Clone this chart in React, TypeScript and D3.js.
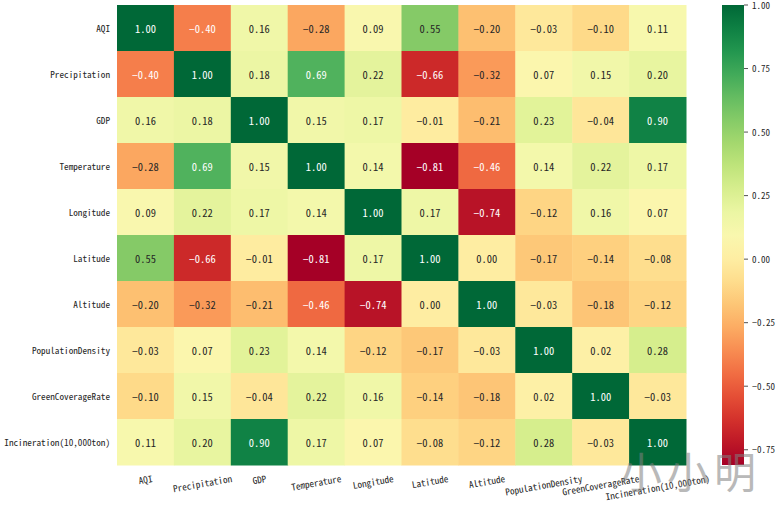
import * as d3 from 'd3'

const labels = [
  'AQI', 'Precipitation', 'GDP', 'Temperature', 'Longitude', 'Latitude',
  'Altitude', 'PopulationDensity', 'GreenCoverageRate', 'Incineration(10,000ton)',
]

const corr = [
  [1.00, -0.40, 0.16, -0.28, 0.09, 0.55, -0.20, -0.03, -0.10, 0.11],
  [-0.40, 1.00, 0.18, 0.69, 0.22, -0.66, -0.32, 0.07, 0.15, 0.20],
  [0.16, 0.18, 1.00, 0.15, 0.17, -0.01, -0.21, 0.23, -0.04, 0.90],
  [-0.28, 0.69, 0.15, 1.00, 0.14, -0.81, -0.46, 0.14, 0.22, 0.17],
  [0.09, 0.22, 0.17, 0.14, 1.00, 0.17, -0.74, -0.12, 0.16, 0.07],
  [0.55, -0.66, -0.01, -0.81, 0.17, 1.00, 0.00, -0.17, -0.14, -0.08],
  [-0.20, -0.32, -0.21, -0.46, -0.74, 0.00, 1.00, -0.03, -0.18, -0.12],
  [-0.03, 0.07, 0.23, 0.14, -0.12, -0.17, -0.03, 1.00, 0.02, 0.28],
  [-0.10, 0.15, -0.04, 0.22, 0.16, -0.14, -0.18, 0.02, 1.00, -0.03],
  [0.11, 0.20, 0.90, 0.17, 0.07, -0.08, -0.12, 0.28, -0.03, 1.00],
]

const cbarTicks = [1.00, 0.75, 0.50, 0.25, 0.00, -0.25, -0.50, -0.75]

const W = 778, H = 509
const font = "'Noto Sans Mono CJK SC', 'Liberation Mono', monospace"

const fmt = (v: number) => v.toFixed(2).replace('-', '\u2212')

function textColor(c: string) {
  const rgb = d3.rgb(c)
  const lin = (v: number) => { v /= 255; return v <= 0.03928 ? v / 12.92 : Math.pow((v + 0.055) / 1.055, 2.4) }
  const lum = 0.2126 * lin(rgb.r) + 0.7152 * lin(rgb.g) + 0.0722 * lin(rgb.b)
  return lum > 0.408 ? '#262626' : '#ffffff'
}

export default function App() {
  const x = d3.scaleBand().domain(labels).range([117, 686])
  const y = d3.scaleBand().domain(labels).range([5, 465])
  const vmin = d3.min(corr.flat())!
  const color = d3.scaleSequential(d3.interpolateRdYlGn).domain([vmin, 1])
  const cb = d3.scaleLinear().domain([vmin, 1]).range([465, 5])
  const stops = d3.range(0, 1.0001, 0.05)

  const fs = 9.2
  const rot = 10 * Math.PI / 180
  const top = 473

  return (
    <svg width={W} height={H} style={{ position: 'absolute', left: 0, top: 0, background: '#fff' }}>
      <defs>
        <linearGradient id="cbar" x1="0" y1="1" x2="0" y2="0">
          {stops.map(t => (
            <stop key={t} offset={t} stopColor={d3.interpolateRdYlGn(t)} />
          ))}
        </linearGradient>
      </defs>

      {corr.map((row, i) => row.map((v, j) => {
        const c = color(v)
        return (
          <g key={`${i}-${j}`}>
            <rect x={x(labels[j])!} y={y(labels[i])!} width={x.bandwidth() + 0.5} height={y.bandwidth() + 0.5} fill={c} />
            <text x={x(labels[j])! + x.bandwidth() / 2} y={y(labels[i])! + y.bandwidth() / 2}
              textAnchor="middle" dominantBaseline="central" fontFamily={font} fontSize={10.5} fill={textColor(c)}>
              {fmt(v)}
            </text>
          </g>
        )
      }))}

      {labels.map(l => (
        <text key={'y' + l} x={110} y={y(l)! + y.bandwidth() / 2} textAnchor="end" dominantBaseline="central"
          fontFamily={font} fontSize={fs} fill="#262626">{l}</text>
      ))}

      {labels.map(l => {
        const w = l.length * fs * 0.5
        const h = fs * 1.1
        const cy = top + (w * Math.sin(rot) + h * Math.cos(rot)) / 2
        const cx = x(l)! + x.bandwidth() / 2
        return (
          <text key={'x' + l} x={cx} y={cy} textAnchor="middle" dominantBaseline="central"
            transform={`rotate(-10 ${cx} ${cy})`} fontFamily={font} fontSize={fs} fill="#262626">{l}</text>
        )
      })}

      <rect x={722} y={5} width={22} height={460} fill="url(#cbar)" />
      {cbarTicks.map(t => (
        <g key={'c' + t} transform={`translate(744,${cb(t)})`}>
          <line x1={0} x2={4} stroke="#262626" strokeWidth={0.8} />
          <text x={8} dominantBaseline="central" fontFamily={font} fontSize={9} fill="#262626">{fmt(t)}</text>
        </g>
      ))}

      <text x={620} y={488} fontFamily="'Noto Sans CJK SC', sans-serif" fontSize={42} fill="#808080" opacity={0.55}
        letterSpacing={5}>小小明</text>
    </svg>
  )
}
